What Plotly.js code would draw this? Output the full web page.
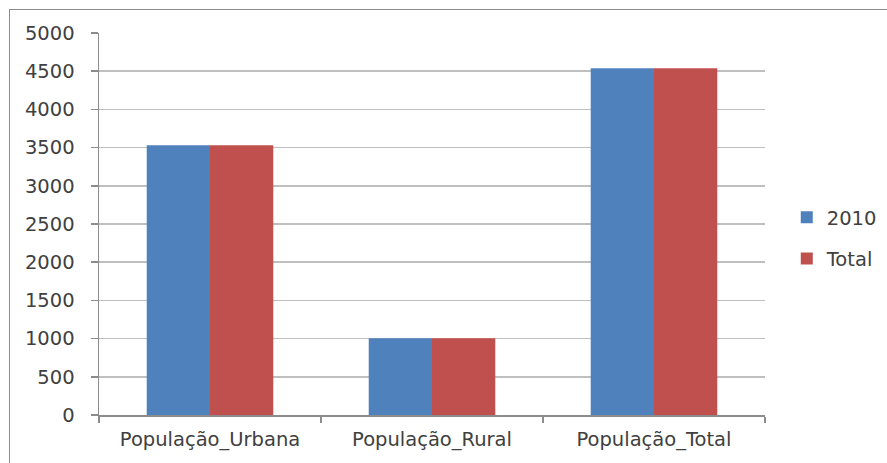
<!DOCTYPE html>
<html>
<head>
<meta charset="utf-8">
<script src="https://cdn.plot.ly/plotly-3.0.1.min.js"></script>
<style>
html,body{margin:0;padding:0;background:#fff;overflow:hidden;}
#frame{position:absolute;left:9px;top:9px;width:900px;height:470px;border:1.5px solid #8c8c8c;box-sizing:border-box;}
#chart{position:absolute;left:0;top:0;width:887px;height:463px;}
</style>
</head>
<body>
<div id="frame"></div>
<div id="chart"></div>
<script>
const categories = ["População_Urbana", "População_Rural", "População_Total"];
const series2010 = [3532, 1005, 4537];
const seriesTotal = [3532, 1005, 4537];
const yTicks = [0, 500, 1000, 1500, 2000, 2500, 3000, 3500, 4000, 4500, 5000];

const font = {family: "DejaVu Sans", size: 19.5, color: "#404040"};

const traces = [
  {type: "bar", name: "2010", x: categories, y: series2010, marker: {color: "#4f81bd"}, legendgroup: "a"},
  {type: "bar", name: "Total", x: categories, y: seriesTotal, marker: {color: "#c0504d"}, legendgroup: "b"}
];

const layout = {
  width: 887, height: 463,
  paper_bgcolor: "rgba(0,0,0,0)", plot_bgcolor: "rgba(0,0,0,0)",
  margin: {l: 99, r: 122, t: 33, b: 48, autoexpand: false},
  font: font,
  barmode: "group", bargap: 0.43, bargroupgap: 0,
  showlegend: true,
  legend: {xref: "container", x: 0.887, xanchor: "left", yref: "container", y: 0.486, yanchor: "middle", font: font,
           traceorder: "grouped", tracegroupgap: 13, itemwidth: 30, bgcolor: "rgba(0,0,0,0)"},
  xaxis: {
    type: "category", showgrid: false, showline: true, linecolor: "#8c8c8c", linewidth: 1.5,
    ticks: "outside", tickson: "boundaries", ticklen: 6, tickcolor: "#8c8c8c", tickwidth: 1.5,
    tickfont: font, zeroline: false, ticklabelstandoff: 6
  },
  yaxis: {
    range: [0, 5000], tickvals: yTicks, ticktext: yTicks.map(String),
    showgrid: true, gridcolor: "#bfbfbf", gridwidth: 1.5,
    showline: true, linecolor: "#8c8c8c", linewidth: 1.5,
    ticks: "outside", ticklen: 7, tickcolor: "#8c8c8c", tickwidth: 1.5,
    tickfont: font, zeroline: false, ticklabelstandoff: 12
  }
};

Plotly.newPlot("chart", traces, layout, {displayModeBar: false, staticPlot: true});
</script>
</body>
</html>
